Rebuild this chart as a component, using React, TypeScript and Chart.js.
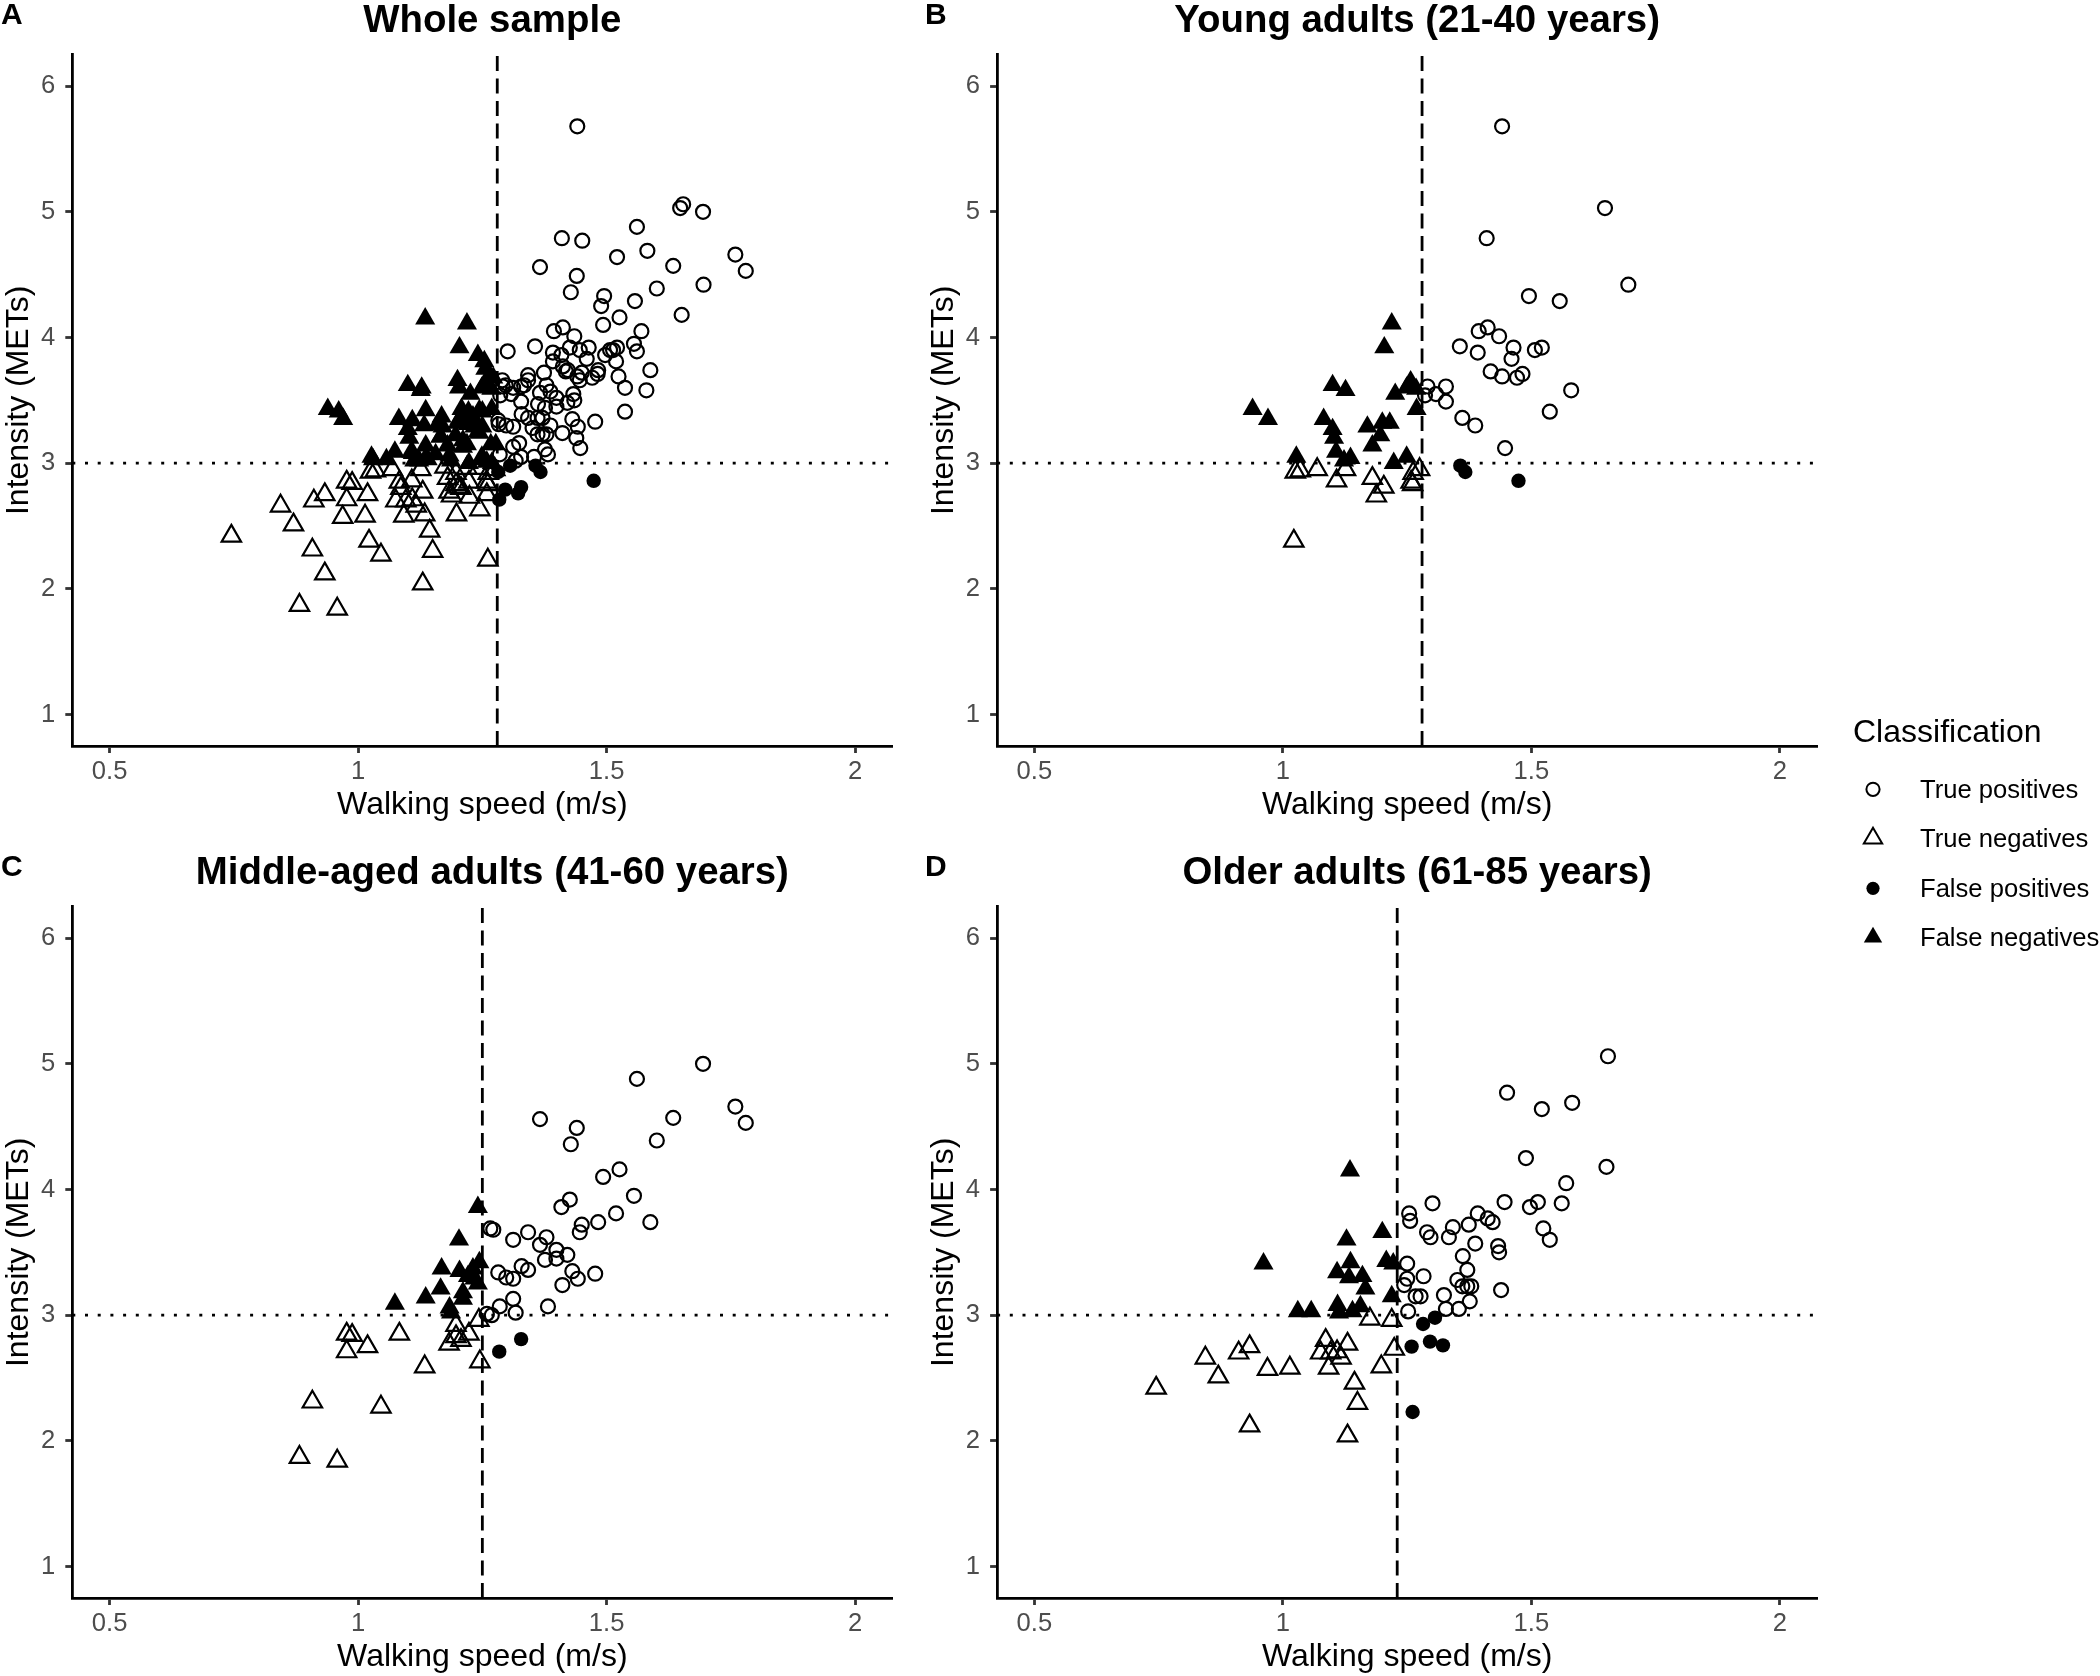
import React, { useEffect, useRef } from 'react';
import { Chart, registerables } from 'chart.js';

Chart.register(...registerables);

const FONT = "'Liberation Sans', Arial, Helvetica, sans-serif";

// ---------- data (walking speed m/s, intensity METs) ----------
const youngSpeed = [
  1.291, 1.286, 1.308, 1.328, 1.328, 1.361, 1.387, 1.447, 1.356, 1.392,
  1.394, 1.412, 1.435, 1.418, 1.441, 1.441, 1.648, 1.41, 1.695, 1.495,
  1.557, 1.464, 1.46, 1.507, 1.521, 1.471, 1.482, 1.58, 1.537,
  1.219, 1.204, 0.939, 0.97, 1.1, 1.126, 1.257, 1.249, 1.268, 1.226,
  1.269, 1.082, 1.1, 1.103, 1.107, 1.17, 1.2, 1.215, 1.196, 1.18,
  1.027, 1.123, 1.136, 1.223, 1.249,
  1.025, 1.035, 1.069, 1.108, 1.126, 1.18, 1.203, 1.188, 1.262, 1.275, 1.261, 1.258, 1.022,
  1.357, 1.367, 1.474,
];
const youngMETs = [
  3.61, 3.54, 3.55, 3.61, 3.49, 3.36, 3.3, 3.12, 3.93, 3.88,
  4.05, 4.08, 4.01, 3.73, 3.69, 5.68, 5.03, 4.79, 4.42, 4.33,
  4.29, 3.92, 3.83, 3.9, 3.92, 3.68, 3.71, 3.58, 3.41,
  4.11, 3.92, 3.43, 3.35, 3.62, 3.58, 3.65, 3.6, 3.59, 3.55,
  3.43, 3.35, 3.27, 3.2, 3.09, 3.29, 3.32, 3.32, 3.22, 3.14,
  3.05, 3.02, 3.04, 3.0, 3.05,
  2.93, 2.94, 2.95, 2.86, 2.95, 2.88, 2.81, 2.74, 2.92, 2.95, 2.83, 2.85, 2.38,
  2.98, 2.93, 2.86,
];

const middleSpeed = [
  1.366, 1.272, 1.266, 1.312, 1.342, 1.379, 1.366, 1.376, 1.329, 1.342,
  1.282, 1.298, 1.312, 1.312, 1.285, 1.317, 1.382, 1.259, 1.269, 1.694,
  1.561, 1.759, 1.78, 1.634, 1.601, 1.44, 1.428, 1.526, 1.493, 1.555,
  1.426, 1.409, 1.519, 1.588, 1.483, 1.45, 1.446, 1.399, 1.421, 1.399,
  1.431, 1.442, 1.477, 1.411,
  1.241, 1.203, 1.168, 1.204, 1.231, 1.244, 1.234, 1.241, 1.221, 1.166,
  1.136, 1.074, 1.211, 1.211, 1.184, 1.187,
  0.882, 0.958, 0.908, 1.046, 0.977, 0.988, 0.977, 1.019, 1.083, 1.134,
  1.197, 1.197, 1.183, 1.223, 1.207, 1.245, 1.243,
  1.284, 1.328,
];
const middleMETs = [
  4.56, 3.68, 3.69, 3.6, 3.66, 3.62, 3.56, 3.44, 3.39, 3.36,
  3.34, 3.3, 3.29, 3.13, 3.07, 3.02, 3.07, 3.01, 3.0, 5.0,
  4.88, 4.66, 4.53, 4.57, 4.39, 4.49, 4.36, 4.16, 4.1, 3.95,
  3.92, 3.86, 3.81, 3.74, 3.74, 3.72, 3.66, 3.52, 3.48, 3.45,
  3.35, 3.29, 3.33, 3.24,
  3.86, 3.6, 3.37, 3.35, 3.37, 3.42, 3.29, 3.25, 3.31, 3.21,
  3.14, 3.09, 3.18, 3.13, 3.06, 3.02,
  1.87, 1.84, 2.31, 2.27, 2.85, 2.84, 2.71, 2.75, 2.85, 2.59,
  2.92, 2.83, 2.77, 2.85, 2.8, 2.63, 2.96,
  2.71, 2.81,
];

const olderSpeed = [
  1.654, 1.451, 1.521, 1.582, 1.489, 1.651, 1.57, 1.561, 1.513, 1.497,
  1.446, 1.524, 1.537, 1.301, 1.254, 1.256, 1.29, 1.297, 1.334, 1.342,
  1.374, 1.392, 1.412, 1.422, 1.387, 1.433, 1.435, 1.362, 1.371, 1.351,
  1.361, 1.371, 1.379, 1.439, 1.376, 1.354, 1.328, 1.324, 1.283, 1.25,
  1.25, 1.244, 1.267, 1.277, 1.252,
  1.135, 0.961, 1.2, 1.128, 1.136, 1.109, 1.133, 1.16, 1.166, 1.208,
  1.222, 1.219, 1.03, 1.057, 1.11, 1.113, 1.14, 1.156,
  0.745, 0.844, 0.87, 0.911, 0.933, 0.969, 1.014, 0.933, 1.086, 1.076,
  1.096, 1.109, 1.117, 1.092, 1.13, 1.144, 1.15, 1.13, 1.175, 1.219, 1.198, 1.224,
  1.259, 1.282, 1.306, 1.296, 1.322, 1.261,
];
const olderMETs = [
  5.06, 4.77, 4.64, 4.69, 4.25, 4.18, 4.05, 3.89, 3.9, 3.86,
  3.9, 3.69, 3.6, 3.89, 3.81, 3.75, 3.66, 3.62, 3.62, 3.7,
  3.72, 3.81, 3.77, 3.74, 3.57, 3.55, 3.5, 3.47, 3.36, 3.28,
  3.23, 3.23, 3.23, 3.2, 3.11, 3.05, 3.05, 3.16, 3.31, 3.41,
  3.29, 3.24, 3.15, 3.15, 3.03,
  4.15, 3.41, 3.66, 3.6, 3.42, 3.34, 3.3, 3.31, 3.21, 3.43,
  3.41, 3.15, 3.03, 3.03, 3.08, 3.02, 3.03, 3.07,
  2.42, 2.66, 2.51, 2.7, 2.75, 2.57, 2.58, 2.12, 2.8, 2.7,
  2.7, 2.71, 2.66, 2.58, 2.77, 2.46, 2.3, 2.04, 2.97, 2.96, 2.59, 2.73,
  2.75, 2.93, 2.98, 2.79, 2.76, 2.23,
];

const panelTitles = [
  'Whole sample',
  'Young adults (21-40 years)',
  'Middle-aged adults (41-60 years)',
  'Older adults (61-85 years)',
];
const panelLetters = ['A', 'B', 'C', 'D'];
const speedCutoffs = [1.28, 1.28, 1.25, 1.23];
const metThreshold = 3;
const classLabels = ['True positives', 'True negatives', 'False positives', 'False negatives'];
const xTickValues = [0.5, 1, 1.5, 2];
const xTickLabels = ['0.5', '1', '1.5', '2'];
const yTickValues = [1, 2, 3, 4, 5, 6];
const xRange = [0.425, 2.075];
const yRange = [0.75, 6.25];

// ---------- styling ----------
const markerStyles = [
  { pointStyle: 'circle', radius: 7.0, fill: 'rgba(0,0,0,0)', border: 2.2 },
  { pointStyle: 'triangle', radius: 11.2, fill: 'rgba(0,0,0,0)', border: 2.2 },
  { pointStyle: 'circle', radius: 7.2, fill: '#000', border: 0 },
  { pointStyle: 'triangle', radius: 11.6, fill: '#000', border: 0 },
];

const CANVAS_W = 920;
const CANVAS_H = 824;

function classify(x: number, y: number, cut: number): number {
  if (x >= cut) return y >= metThreshold ? 0 : 2;
  return y >= metThreshold ? 3 : 1;
}

function Panel(props: { idx: number; speeds: number[]; mets: number[]; left: number; top: number; padLeft: number }) {
  const ref = useRef<HTMLCanvasElement | null>(null);
  const { idx, speeds, mets, left, top, padLeft } = props;

  useEffect(() => {
    if (!ref.current) return;
    const cut = speedCutoffs[idx];
    const groups: { x: number; y: number }[][] = [[], [], [], []];
    speeds.forEach((x, i) => {
      const y = mets[i];
      groups[classify(x, y, cut)].push({ x, y });
    });

    const pointSets = groups.map((pts, c) => ({
      label: classLabels[c],
      data: pts,
      showLine: false,
      pointStyle: markerStyles[c].pointStyle,
      pointRadius: markerStyles[c].radius,
      pointHoverRadius: markerStyles[c].radius,
      pointBackgroundColor: markerStyles[c].fill,
      pointBorderColor: '#000',
      pointBorderWidth: markerStyles[c].border,
      order: 1,
    }));

    const lineSets = [
      {
        label: 'speed cut-off',
        data: [{ x: cut, y: yRange[0] }, { x: cut, y: yRange[1] }],
        showLine: true,
        borderColor: '#000',
        borderWidth: 2.8,
        borderDash: [15, 7.5],
        pointRadius: 0,
        order: 10,
      },
      {
        label: 'MET threshold',
        data: [{ x: xRange[0], y: metThreshold }, { x: xRange[1], y: metThreshold }],
        showLine: true,
        borderColor: '#000',
        borderWidth: 2.8,
        borderDash: [3, 9.7],
        pointRadius: 0,
        order: 10,
      },
    ];

    const textPlugin = {
      id: 'panelText',
      afterDraw(chart: any) {
        const { ctx, chartArea } = chart;
        ctx.save();
        ctx.fillStyle = '#000';
        ctx.textBaseline = 'alphabetic';
        ctx.font = `bold 38.4px ${FONT}`;
        ctx.textAlign = 'center';
        ctx.fillText(panelTitles[idx], (chartArea.left + chartArea.right) / 2 + 10, 32);
        ctx.font = `bold 30px ${FONT}`;
        ctx.textAlign = 'left';
        ctx.fillText(panelLetters[idx], 1, 24);
        ctx.restore();
      },
    };

    const chart = new Chart(ref.current, {
      type: 'scatter',
      data: { datasets: [...lineSets, ...pointSets] as any },
      options: {
        animation: false,
        responsive: false,
        devicePixelRatio: 1,
        events: [],
        layout: { padding: { left: padLeft, right: CANVAS_W - 892.4 - padLeft, top: 54.7, bottom: 0 } },
        plugins: {
          legend: { display: false },
          tooltip: { enabled: false },
          title: { display: false },
        },
        scales: {
          x: {
            type: 'linear',
            min: xRange[0],
            max: xRange[1],
            afterBuildTicks: (s: any) => {
              s.ticks = xTickValues.map((v) => ({ value: v }));
            },
            afterFit: (s: any) => {
              s.height = CANVAS_H - 746;
            },
            ticks: {
              autoSkip: false,
              maxRotation: 0,
              padding: 4,
              color: '#4D4D4D',
              font: { family: FONT, size: 25.6 },
              callback: (v: any) => {
                const i = xTickValues.indexOf(Number(v));
                return i >= 0 ? xTickLabels[i] : '';
              },
            },
            grid: {
              display: true,
              drawOnChartArea: false,
              drawTicks: true,
              tickLength: 7,
              tickWidth: 2.8,
              tickColor: '#333333',
            },
            border: { display: true, color: '#000', width: 2.8 },
            title: {
              display: true,
              text: 'Walking speed (m/s)',
              color: '#000',
              font: { family: FONT, size: 32 },
              padding: { top: 0, bottom: 0 },
            },
          },
          y: {
            type: 'linear',
            min: yRange[0],
            max: yRange[1],
            afterBuildTicks: (s: any) => {
              s.ticks = yTickValues.map((v) => ({ value: v }));
            },
            afterFit: (s: any) => {
              s.width = 72.3;
            },
            ticks: {
              autoSkip: false,
              padding: 10,
              color: '#4D4D4D',
              font: { family: FONT, size: 25.6 },
              callback: (v: any) => String(v),
            },
            grid: {
              display: true,
              drawOnChartArea: false,
              drawTicks: true,
              tickLength: 7,
              tickWidth: 2.8,
              tickColor: '#333333',
            },
            border: { display: true, color: '#000', width: 2.8 },
            title: {
              display: true,
              text: 'Intensity (METs)',
              color: '#000',
              font: { family: FONT, size: 32 },
              padding: { top: 0, bottom: 0 },
            },
          },
        },
      } as any,
      plugins: [textPlugin],
    });
    return () => chart.destroy();
  }, [idx, speeds, mets, padLeft]);

  return (
    <canvas
      ref={ref}
      width={CANVAS_W}
      height={CANVAS_H}
      style={{ position: 'absolute', left, top, width: CANVAS_W, height: CANVAS_H }}
    />
  );
}

function Legend() {
  const cys = [99.3, 148.3, 198.3, 247.3];
  const cx = 43;
  const r = 10.6;
  const tri = (cy: number) =>
    `${cx},${cy - r} ${cx + r * 0.866},${cy + r / 2} ${cx - r * 0.866},${cy + r / 2}`;
  return (
    <svg
      width={270}
      height={280}
      style={{ position: 'absolute', left: 1830, top: 690, fontFamily: FONT }}
    >
      <text x={23} y={51.7} fontSize={32} fill="#000">
        Classification
      </text>
      <circle cx={cx} cy={cys[0]} r={6.6} fill="none" stroke="#000" strokeWidth={2} />
      <polygon points={tri(cys[1])} fill="none" stroke="#000" strokeWidth={2} />
      <circle cx={cx} cy={cys[2]} r={6.6} fill="#000" />
      <polygon points={tri(cys[3])} fill="#000" />
      {classLabels.map((t, i) => (
        <text key={t} x={90} y={cys[i] + 8.5} fontSize={25.6} fill="#000">
          {t}
        </text>
      ))}
    </svg>
  );
}

const wholeSpeed = [...youngSpeed, ...middleSpeed, ...olderSpeed];
const wholeMETs = [...youngMETs, ...middleMETs, ...olderMETs];

export default function App() {
  return (
    <div
      style={{
        position: 'absolute',
        left: 0,
        top: 0,
        width: 2100,
        height: 1676,
        background: '#fff',
        overflow: 'hidden',
      }}
    >
      <Panel idx={0} speeds={wholeSpeed} mets={wholeMETs} left={0} top={0} padLeft={0} />
      <Panel idx={1} speeds={youngSpeed} mets={youngMETs} left={924} top={0} padLeft={0.8} />
      <Panel idx={2} speeds={middleSpeed} mets={middleMETs} left={0} top={852} padLeft={0} />
      <Panel idx={3} speeds={olderSpeed} mets={olderMETs} left={924} top={852} padLeft={0.8} />
      <Legend />
    </div>
  );
}
